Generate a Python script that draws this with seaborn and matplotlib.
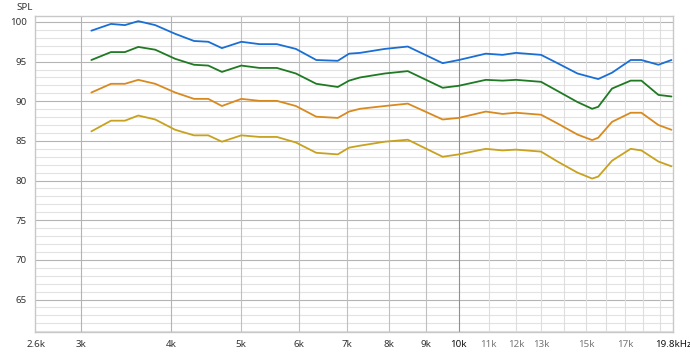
import numpy as np
import pandas as pd
import matplotlib
matplotlib.use('Agg')
import matplotlib.pyplot as plt
import seaborn as sns

# frequencies in kHz
freq_khz = [3.1, 3.3, 3.45, 3.6, 3.8, 4.05, 4.3, 4.5, 4.7, 5.0, 5.3, 5.6, 5.95,
            6.35, 6.8, 7.05, 7.3, 7.9, 8.5, 9.5, 10.0, 10.9, 11.5, 12.0, 13.0,
            13.7, 14.6, 15.3, 15.6, 16.3, 17.3, 17.9, 18.9, 19.7]

spl_blue = [98.9, 99.75, 99.6, 100.1, 99.6, 98.5, 97.6, 97.5, 96.7, 97.5, 97.2,
            97.2, 96.6, 95.2, 95.1, 96.0, 96.1, 96.6, 96.9, 94.8, 95.2, 96.0,
            95.85, 96.1, 95.85, 94.8, 93.5, 93.0, 92.8, 93.6, 95.2, 95.2, 94.6, 95.2]
spl_green = [95.2, 96.2, 96.2, 96.85, 96.5, 95.35, 94.6, 94.5, 93.7, 94.5, 94.2,
             94.2, 93.5, 92.2, 91.8, 92.6, 93.0, 93.5, 93.8, 91.7, 91.95, 92.7,
             92.6, 92.7, 92.45, 91.3, 89.9, 89.05, 89.3, 91.6, 92.6, 92.6, 90.8, 90.6]
spl_orange = [91.1, 92.2, 92.2, 92.7, 92.2, 91.1, 90.3, 90.3, 89.4, 90.3, 90.05,
              90.05, 89.4, 88.05, 87.9, 88.7, 89.05, 89.4, 89.7, 87.7, 87.9, 88.7,
              88.4, 88.55, 88.3, 87.2, 85.8, 85.1, 85.4, 87.4, 88.55, 88.55, 87.0, 86.4]
spl_yellow = [86.2, 87.55, 87.55, 88.2, 87.7, 86.4, 85.7, 85.7, 84.9, 85.7, 85.5,
              85.5, 84.8, 83.5, 83.3, 84.15, 84.4, 84.9, 85.15, 83.0, 83.3, 84.0,
              83.8, 83.9, 83.65, 82.4, 81.0, 80.25, 80.5, 82.5, 84.0, 83.8, 82.4, 81.8]

series_names = ['blue', 'green', 'orange', 'yellow']
line_colors = ['#1a6fd4', '#1f7a23', '#d98a1f', '#c8a21f']

xtick_khz = [2.6, 3, 4, 5, 6, 7, 8, 9, 10, 11, 12, 13, 15, 17, 19.8]
xtick_labels = ['2.6k', '3k', '4k', '5k', '6k', '7k', '8k', '9k', '10k',
                '11k', '12k', '13k', '15k', '17k', '19.8kHz']
ytick_vals = [65, 70, 75, 80, 85, 90, 95, 100]

# long-form table for seaborn
df = pd.concat([
    pd.DataFrame({'freq': np.array(freq_khz) * 1000, 'spl': vals, 'curve': name})
    for name, vals in zip(series_names, [spl_blue, spl_green, spl_orange, spl_yellow])
])

sns.set_style('white')
plt.rcParams['font.family'] = ['Noto Sans', 'DejaVu Sans']

fig = plt.figure(figsize=(6.9, 3.54), dpi=100)
ax = fig.add_axes([0.0507, 0.0621, 0.9247, 0.8927])

# grid
for v in np.arange(61, 101):
    major = v % 5 == 0
    ax.axhline(v, color='#b4b4b4' if major else '#e2e2e2', lw=0.8, zorder=0)
grid_khz = [3, 4, 5, 6, 7, 8, 9, 10, 11, 12, 13, 14, 15, 16, 17, 18, 19]
for f in grid_khz:
    if f == 10:
        c = '#909090'
    elif f in (3, 4):
        c = '#b4b4b4'
    elif f < 10:
        c = '#c0c0c0'
    else:
        c = '#dedede'
    ax.axvline(f * 1000, color=c, lw=0.8, zorder=0)

sns.lineplot(data=df, x='freq', y='spl', hue='curve', palette=line_colors,
             hue_order=series_names, lw=1.3, legend=False, ax=ax, zorder=3)

ax.set_xscale('log')
ax.set_xlim(2590, 19750)
ax.set_ylim(60.9, 100.75)
ax.set_xticks([f * 1000 for f in xtick_khz])
ax.set_xticklabels(xtick_labels)
ax.xaxis.set_minor_locator(matplotlib.ticker.NullLocator())
ax.set_yticks(ytick_vals)
ax.tick_params(axis='both', length=0, labelsize=7, pad=6)
for lbl, f in zip(ax.get_xticklabels(), xtick_khz):
    if f in (10, 19.8):
        lbl.set_color('#111111')
    elif f > 10:
        lbl.set_color('#777777')
    else:
        lbl.set_color('#333333')
for lbl in ax.get_yticklabels():
    lbl.set_color('#333333')
ax.set_xlabel('')
ax.set_ylabel('')

for s in ax.spines.values():
    s.set_color('#c8c8c8')
    s.set_linewidth(1.0)

fig.text(0.036, 0.978, 'SPL', fontsize=7, color='#333333', ha='center', va='center')

fig.savefig('out.png', dpi=100)
